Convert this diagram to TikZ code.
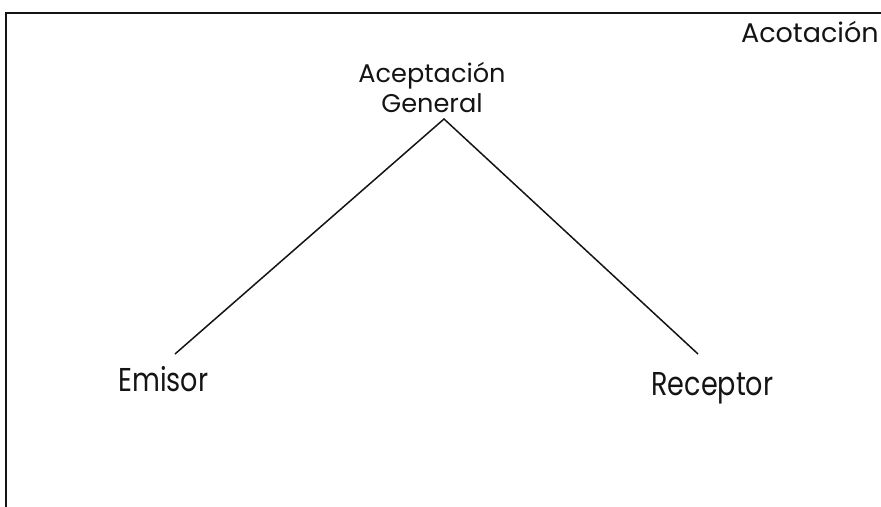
\documentclass[tikz,border=0pt]{standalone}
\usepackage{fontspec}
\setmainfont{Poppins}
\usetikzlibrary{positioning}
\definecolor{DiagInk}{RGB}{20,20,20}
\tikzset{
  diag frame/.style={draw=DiagInk, line width=0.8pt},
  diag line/.style={draw=DiagInk, line width=0.75pt},
  diag term/.style={text=DiagInk, inner sep=0pt, font=\fontsize{16.5}{18}\selectfont\addfontfeature{FakeStretch=0.82}},
  diag head/.style={text=DiagInk, inner sep=0pt, align=center, font=\fontsize{12.8}{15}\selectfont},
  diag note/.style={text=DiagInk, inner sep=0pt, font=\fontsize{13.5}{15}\selectfont}
}

\begin{document}
\begin{tikzpicture}[x=0.5pt,y=-0.5pt]
\useasboundingbox (0,0) rectangle (881,507);
% marco
\draw[diag frame] (881,13) -- (6,13) -- (6,507);
\node[diag note, anchor=base east] (nota) at (879,43) {Acotación};
\node[diag head] (acep) at (432,88) {Aceptación\\General};
\coordinate (cima) at (444,119);
\coordinate (finE) at (175,354);
\coordinate (finR) at (698,354);
\node[diag term, anchor=base west] (emisor) at (118,391) {Emisor};
\node[diag term, anchor=base west] (receptor) at (651,395) {Receptor};
\draw[diag line] (finE) -- (cima) -- (finR);
\end{tikzpicture}
\end{document}
